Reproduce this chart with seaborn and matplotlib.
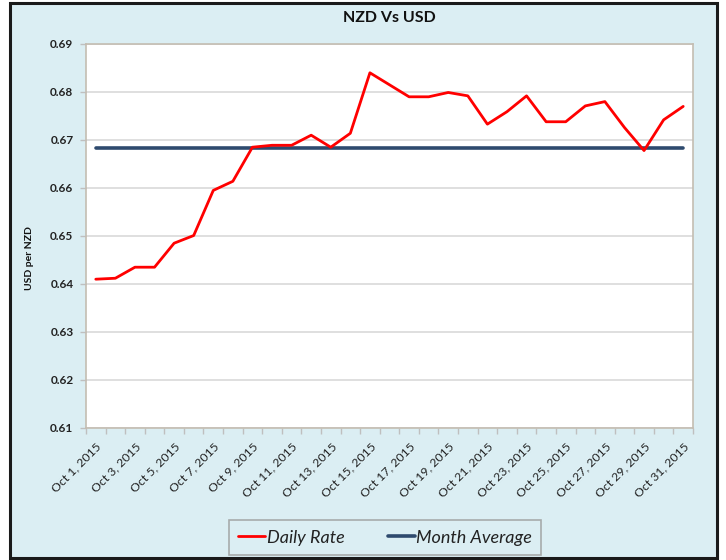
import numpy as np
import pandas as pd
import matplotlib
matplotlib.use('Agg')
import matplotlib.pyplot as plt
import seaborn as sns
from matplotlib.patches import Rectangle

# data
days = list(range(1, 32))
day_labels = ['Oct %d, 2015' % d for d in days]
daily_rate = [0.6410, 0.6412, 0.6435, 0.6435, 0.6485, 0.6501, 0.6595, 0.6614,
              0.6685, 0.6689, 0.6689, 0.6710, 0.6685, 0.6714, 0.6840, 0.6815,
              0.6790, 0.6790, 0.6799, 0.6792, 0.6733, 0.6759, 0.6792, 0.6738,
              0.6738, 0.6771, 0.6780, 0.6726, 0.6678, 0.6742, 0.6770]
month_average = 0.6683
y_ticks = [0.61, 0.62, 0.63, 0.64, 0.65, 0.66, 0.67, 0.68, 0.69]

df = pd.DataFrame({'pos': np.arange(len(days)), 'rate': daily_rate,
                   'avg': [month_average] * len(days)})

sns.set_theme(style='white')
plt.rcParams['font.family'] = ['Lato', 'DejaVu Sans']

W, H = 726, 560
fig = plt.figure(figsize=(W / 100, H / 100), dpi=100)
fig.patch.set_facecolor('white')
# chart frame
fig.add_artist(Rectangle((10 / W, 2 / H), 707 / W, 555 / H, transform=fig.transFigure,
                         facecolor='#DBEEF3', edgecolor='#1a1a1a', linewidth=2.2, zorder=-5))

ax = fig.add_axes([86 / W, 132 / H, 607 / W, 384 / H])
ax.set_facecolor('white')

sns.lineplot(data=df, x='pos', y='avg', color='#2E4A6E', lw=2.6, ax=ax,
             label='Month Average', zorder=2)
sns.lineplot(data=df, x='pos', y='rate', color='#FF0000', lw=2.0, ax=ax,
             label='Daily Rate', zorder=3)

ax.set_xlim(-0.5, len(days) - 0.5)
ax.set_ylim(0.61, 0.69)
ax.set_yticks(y_ticks)
ax.set_yticklabels(['%.2f' % v for v in y_ticks], fontsize=8.5, fontweight='bold', color='#222222')
ax.yaxis.grid(True, color='#D9D9D9', lw=1.2)
ax.set_axisbelow(True)

# labels on every 2nd day, tick marks on category boundaries
ax.set_xticks(df['pos'][::2])
ax.set_xticklabels(day_labels[::2], rotation=45, ha='right', rotation_mode='anchor',
                   fontsize=8.8, color='#222222')
ax.set_xticks(np.arange(-0.5, len(days)), minor=True)
ax.tick_params(axis='x', which='major', length=0, pad=9)
ax.tick_params(axis='x', which='minor', length=4, color='#BFBFBF', width=1, bottom=True)
ax.tick_params(axis='y', length=4, color='#BFBFBF', width=1, left=True, pad=5)
ax.set_xlabel('')
ax.set_ylabel('')
for s in ax.spines.values():
    s.set_color('#C4BDB2')
    s.set_linewidth(1.2)

fig.text(389 / W, 1 - 18 / H, 'NZD Vs USD', ha='center', va='center',
         fontsize=11.5, fontweight='bold', color='#111111')
fig.text(30 / W, 1 - 258 / H, 'USD per NZD', rotation=90, ha='center', va='center',
         fontsize=7.5, fontweight='bold', color='#111111')

handles, labels = ax.get_legend_handles_labels()
ax.get_legend().remove()
leg = fig.legend(handles[::-1], labels[::-1], loc='center', ncol=2,
                 bbox_to_anchor=(385 / W, 22.5 / H), frameon=True, fancybox=False,
                 facecolor='#DBEEF3', edgecolor='#9A9A9A', handlelength=1.5,
                 handletextpad=0.1, columnspacing=2.4, borderpad=0.5, borderaxespad=0,
                 prop={'style': 'italic', 'size': 13})
leg.get_frame().set_linewidth(1.2)
for t in leg.get_texts():
    t.set_color('#222222')

fig.savefig('out.png', dpi=100, facecolor=fig.get_facecolor())
